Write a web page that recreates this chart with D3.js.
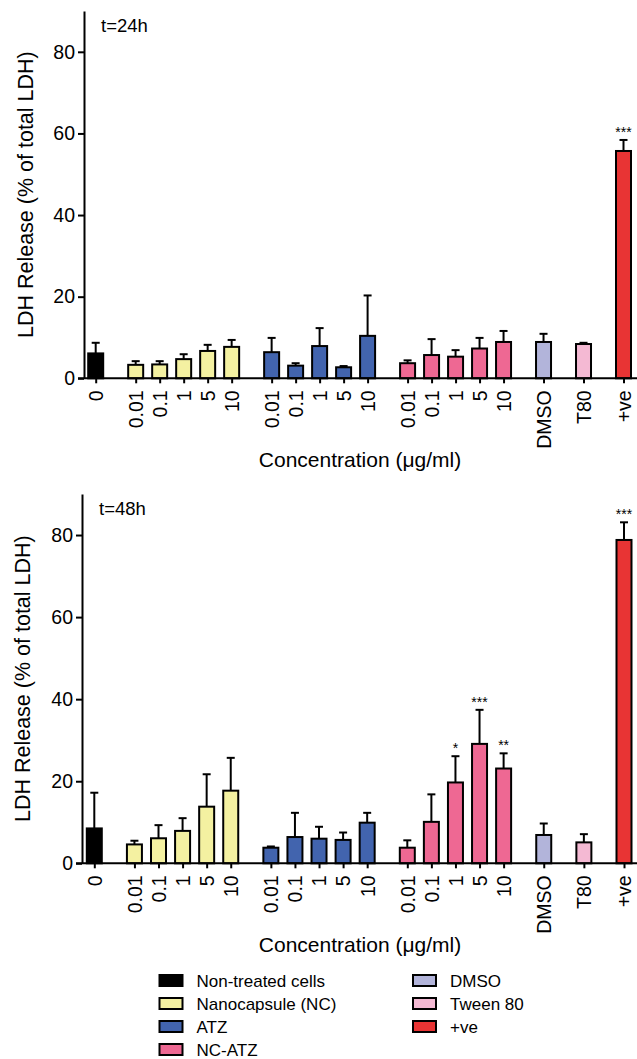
<!DOCTYPE html>
<html>
<head>
<meta charset="utf-8">
<script src="https://cdn.jsdelivr.net/npm/d3@7"></script>
<style>
  body { margin: 0; background: #fff; }
  svg { display: block; font-family: "Liberation Sans", Arial, Helvetica, sans-serif; }
</style>
</head>
<body>
<div id="chart"></div>
<script>
// categories on the x axis, and which treatment group each bar belongs to
var categories = ["0", "0.01", "0.1", "1", "5", "10", "0.01", "0.1", "1", "5", "10",
	"0.01", "0.1", "1", "5", "10", "DMSO", "T80", "+ve"]
var barGroup = [0, 1, 1, 1, 1, 1, 2, 2, 2, 2, 2, 3, 3, 3, 3, 3, 4, 5, 6]

var groupNames = ["Non-treated cells", "Nanocapsule (NC)", "ATZ", "NC-ATZ", "DMSO", "Tween 80", "+ve"]
var groupColors = ["#000000", "#f4f1a1", "#4264ae", "#ee6893", "#b2b4da", "#f4b9d3", "#e83434"]

// t = 24h
var mean24 = [6.1, 3.3, 3.4, 4.7, 6.7, 7.7, 6.4, 3.1, 7.9, 2.7, 10.4, 3.7, 5.7, 5.3, 7.3, 8.9, 8.9, 8.4, 55.7]
var sd24 = [2.6, 0.9, 0.8, 1.2, 1.5, 1.7, 3.5, 0.6, 4.4, 0.3, 9.9, 0.7, 3.9, 1.6, 2.6, 2.7, 2.0, 0.3, 2.7]
var stars24 = ["", "", "", "", "", "", "", "", "", "", "", "", "", "", "", "", "", "", "***"]

// t = 48h
var mean48 = [8.5, 4.6, 6.1, 7.9, 13.8, 17.7, 3.8, 6.4, 6.0, 5.7, 9.9, 3.8, 10.1, 19.7, 29.1, 23.1, 6.9, 5.1, 78.8]
var sd48 = [8.7, 0.9, 3.2, 3.1, 7.9, 8.0, 0.3, 5.9, 2.9, 1.8, 2.4, 1.8, 6.7, 6.4, 8.3, 3.7, 2.8, 2.0, 4.3]
var stars48 = ["", "", "", "", "", "", "", "", "", "", "", "", "", "*", "***", "**", "", "", "***"]

var yTicks = [0, 20, 40, 60, 80]
var yMax = 90

var w = 637, h = 1059,
	font = "\"Liberation Sans\", Arial, Helvetica, sans-serif",
	svg = d3.select("#chart").append("svg")
		.attr("width", w)
		.attr("height", h)

// slot index of each bar: wider gap between groups
var slots = []
var s = 0
categories.forEach((c, i) => {
	if (i > 0) s += barGroup[i] === barGroup[i - 1] ? 1 : 5 / 3
	slots.push(s)
})

var drawPanel = (p) => {
	var data = categories.map((c, i) => ({
		label: c, slot: slots[i], group: barGroup[i],
		mean: p.mean[i], sd: p.sd[i], star: p.stars[i]
	}))

	var x = d3.scaleLinear()
		.domain([0, d3.max(slots)])
		.range([p.firstBar, p.lastBar])

	var y = d3.scaleLinear()
		.domain([0, yMax])
		.range([p.base, p.top])

	var g = svg.append("g")

	// error bars (upper only)
	var eb = g.selectAll(".err").data(data).enter().append("g")
	eb.append("line")
		.attr("x1", d => x(d.slot)).attr("x2", d => x(d.slot))
		.attr("y1", d => y(d.mean)).attr("y2", d => y(d.mean + d.sd))
		.attr("stroke", "#000").attr("stroke-width", 2)
	eb.append("line")
		.attr("x1", d => x(d.slot) - 4).attr("x2", d => x(d.slot) + 4)
		.attr("y1", d => y(d.mean + d.sd)).attr("y2", d => y(d.mean + d.sd))
		.attr("stroke", "#000").attr("stroke-width", 2)

	// bars
	var bw = 15
	g.selectAll("rect").data(data).enter().append("rect")
		.attr("x", d => x(d.slot) - bw / 2)
		.attr("y", d => y(d.mean))
		.attr("width", bw)
		.attr("height", d => y(0) - y(d.mean))
		.attr("fill", d => groupColors[d.group])
		.attr("stroke", "#000")
		.attr("stroke-width", 2)

	// significance stars
	g.selectAll(".star").data(data.filter(d => d.star)).enter().append("text")
		.attr("x", d => x(d.slot))
		.attr("y", d => y(d.mean + d.sd) - 3)
		.attr("text-anchor", "middle")
		.style("font-size", "14px")
		.text(d => d.star)

	// y axis
	var yAxis = d3.axisLeft(y).tickValues(yTicks).tickSize(6).tickPadding(3).tickSizeOuter(0)
	var ya = g.append("g")
		.attr("transform", "translate(" + p.axisX + ",0)")
		.call(yAxis)
	ya.select(".domain").attr("stroke-width", 2)
	ya.selectAll(".tick line").attr("stroke-width", 2)
	ya.selectAll(".tick text").style("font-size", "19.5px").style("font-family", font).attr("fill", "#000")

	// x axis
	var xAxis = d3.axisBottom(x).tickValues(slots).tickFormat((d, i) => categories[i]).tickSize(5).tickSizeOuter(0)
	var xa = g.append("g")
		.attr("transform", "translate(0," + p.base + ")")
		.call(xAxis)
	xa.select(".domain").remove()
	xa.selectAll(".tick line").attr("stroke-width", 2)
	xa.selectAll(".tick text")
		.style("font-size", "19.5px").style("font-family", font).attr("fill", "#000")
		.attr("transform", "rotate(-90)")
		.attr("text-anchor", "end")
		.attr("x", -12).attr("y", 0).attr("dy", "0.35em")

	// baseline
	g.append("line")
		.attr("x1", p.axisX - 6).attr("x2", w)
		.attr("y1", y(0)).attr("y2", y(0))
		.attr("stroke", "#000").attr("stroke-width", 2)

	// axis titles
	g.append("text")
		.attr("transform", "translate(" + p.yLabelX + "," + (p.base + p.top) / 2 + ") rotate(-90)")
		.attr("text-anchor", "middle")
		.style("font-size", "21.5px")
		.text("LDH Release (% of total LDH)")

	g.append("text")
		.attr("x", 360)
		.attr("y", p.base + 89)
		.attr("text-anchor", "middle")
		.style("font-size", "21px")
		.text("Concentration (\u03bcg/ml)")

	g.append("text")
		.attr("x", p.axisX + 17)
		.attr("y", p.top + 21)
		.style("font-size", "18.5px")
		.text(p.title)
}

drawPanel({mean: mean24, sd: sd24, stars: stars24, title: "t=24h",
	axisX: 84, base: 378.3, top: 11, firstBar: 95.7, lastBar: 623.5, yLabelX: 33})
drawPanel({mean: mean48, sd: sd48, stars: stars48, title: "t=48h",
	axisX: 82, base: 863.3, top: 494, firstBar: 94.3, lastBar: 624, yLabelX: 30})

// legend: two columns
var legendCols = [0, 0, 0, 0, 1, 1, 1]
var legendRows = [0, 1, 2, 3, 0, 1, 2]
var colX = [158.5, 412], rowY = 980.5, rowStep = 23

var lg = svg.append("g").selectAll("g").data(groupNames).enter().append("g")
	.attr("transform", (d, i) => "translate(" + colX[legendCols[i]] + "," + (rowY + legendRows[i] * rowStep) + ")")
lg.append("rect")
	.attr("x", 1).attr("y", -5.5)
	.attr("width", 23).attr("height", 11)
	.attr("fill", (d, i) => groupColors[i])
	.attr("stroke", "#000").attr("stroke-width", 2)
lg.append("text")
	.attr("x", 38).attr("y", 6)
	.style("font-size", "17px")
	.text(d => d)
</script>
</body>
</html>
